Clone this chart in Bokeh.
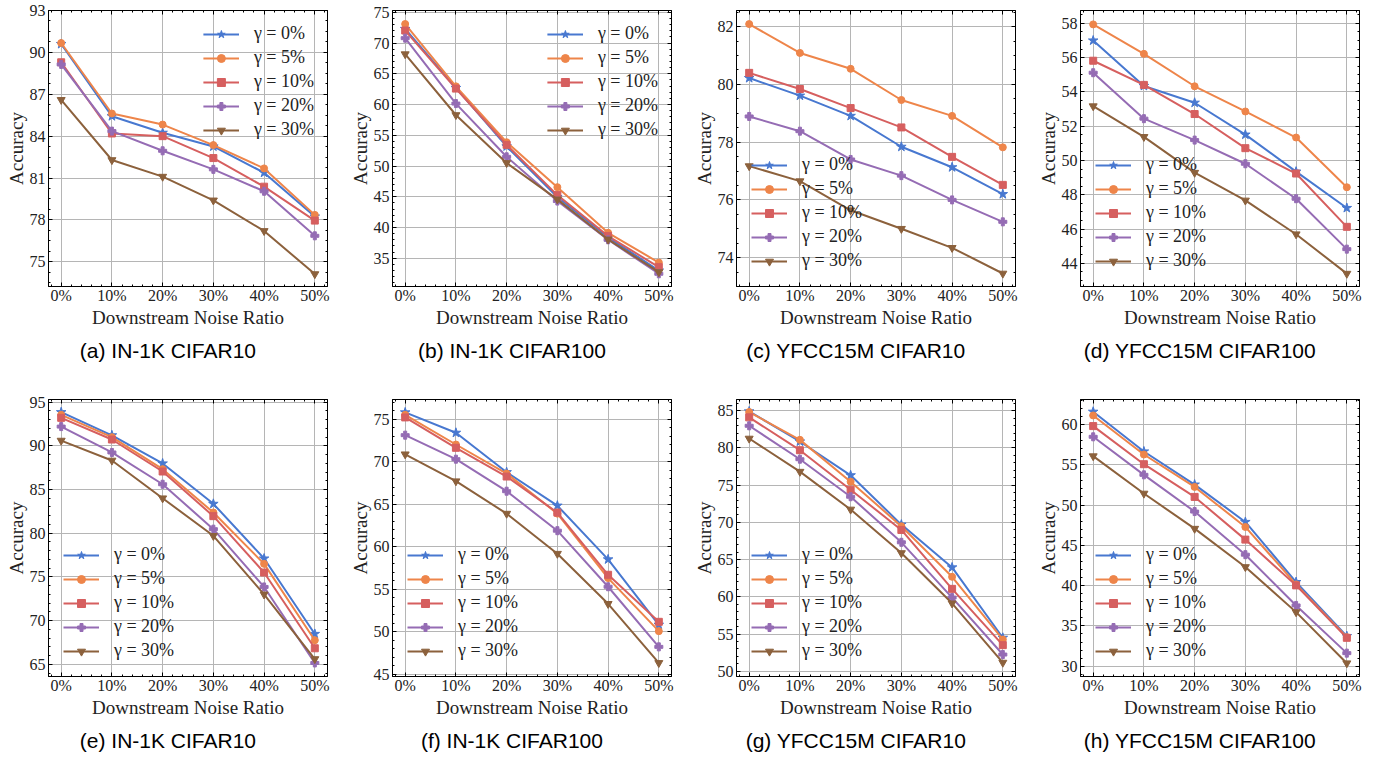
from bokeh.plotting import figure
from bokeh.models import LinearAxis, Legend, LegendItem, SingleIntervalTicker
from bokeh.layouts import row, column
from bokeh.embed import file_html
from bokeh.resources import INLINE

# ---------------- data ----------------
noise = [0, 10, 20, 30, 40, 50]
tick_labels = ["0%", "10%", "20%", "30%", "40%", "50%"]
gamma_labels = ["γ = 0%", "γ = 5%", "γ = 10%", "γ = 20%", "γ = 30%"]
captions = ["(a) IN-1K CIFAR10", "(b) IN-1K CIFAR100", "(c) YFCC15M CIFAR10", "(d) YFCC15M CIFAR100",
            "(e) IN-1K CIFAR10", "(f) IN-1K CIFAR100", "(g) YFCC15M CIFAR10", "(h) YFCC15M CIFAR100"]

a_g0 = [90.60, 85.43, 84.24, 83.26, 81.38, 78.24]
a_g5 = [90.67, 85.62, 84.83, 83.36, 81.69, 78.36]
a_g10 = [89.29, 84.19, 84.00, 82.43, 80.38, 77.95]
a_g20 = [89.14, 84.36, 82.95, 81.62, 80.05, 76.86]
a_g30 = [86.60, 82.29, 81.10, 79.40, 77.21, 74.12]

b_g0 = [72.30, 62.70, 53.20, 44.95, 38.40, 33.00]
b_g5 = [73.10, 62.96, 53.87, 46.56, 39.14, 34.30]
b_g10 = [72.04, 62.60, 53.44, 45.27, 38.60, 33.55]
b_g20 = [70.80, 60.16, 51.50, 44.30, 38.00, 32.47]
b_g30 = [68.20, 58.30, 50.50, 44.57, 38.06, 32.74]

c_g0 = [80.22, 79.61, 78.91, 77.84, 77.13, 76.20]
c_g5 = [82.09, 81.09, 80.54, 79.46, 78.91, 77.82]
c_g10 = [80.40, 79.84, 79.18, 78.51, 77.49, 76.52]
c_g20 = [78.89, 78.38, 77.40, 76.84, 76.00, 75.24]
c_g30 = [77.17, 76.65, 75.64, 75.00, 74.34, 73.45]

d_g0 = [57.00, 54.35, 53.37, 51.51, 49.35, 47.23]
d_g5 = [57.94, 56.22, 54.33, 52.86, 51.34, 48.44]
d_g10 = [55.82, 54.41, 52.71, 50.72, 49.24, 46.13]
d_g20 = [55.12, 52.44, 51.19, 49.81, 47.77, 44.83]
d_g30 = [53.17, 51.38, 49.29, 47.67, 45.70, 43.40]

e_g0 = [93.85, 91.20, 87.98, 83.36, 77.10, 68.47]
e_g5 = [93.55, 90.99, 87.33, 82.37, 76.49, 67.75]
e_g10 = [93.20, 90.72, 87.06, 81.95, 75.50, 66.83]
e_g20 = [92.20, 89.24, 85.60, 80.46, 73.85, 65.15]
e_g30 = [90.60, 88.32, 84.00, 79.70, 73.00, 65.60]

f_g0 = [75.83, 73.43, 68.79, 64.85, 58.52, 50.82]
f_g5 = [75.55, 72.05, 68.63, 63.91, 56.32, 50.07]
f_g10 = [75.24, 71.66, 68.28, 64.03, 56.71, 51.17]
f_g20 = [73.15, 70.32, 66.55, 61.90, 55.30, 48.22]
f_g30 = [70.90, 67.73, 63.91, 59.19, 53.29, 46.33]

g_g0 = [84.90, 80.86, 76.32, 69.70, 63.95, 54.50]
g_g5 = [84.82, 81.08, 75.46, 69.48, 62.69, 54.27]
g_g10 = [84.10, 79.69, 74.38, 68.98, 61.07, 53.51]
g_g20 = [82.97, 78.48, 73.44, 67.32, 59.90, 52.25]
g_g30 = [81.26, 76.81, 71.73, 65.88, 59.13, 51.17]

h_g0 = [61.58, 56.65, 52.54, 47.90, 40.44, 33.73]
h_g5 = [61.12, 56.27, 52.25, 47.28, 40.15, 33.60]
h_g10 = [59.80, 55.07, 51.01, 45.71, 40.03, 33.52]
h_g20 = [58.47, 53.75, 49.19, 43.84, 37.54, 31.62]
h_g30 = [56.07, 51.43, 47.07, 42.31, 36.71, 30.37]

# axis limits and tick steps per panel
ylims = [(73.23, 93.0), (30.4, 75.3), (73.0, 82.56), (42.65, 58.75),
         (63.6, 95.3), (44.73, 77.35), (49.3, 86.5), (28.72, 63.1)]
ysteps = [3, 5, 2, 2, 5, 5, 5, 5]

# ---------------- style ----------------
colors = ["#4878d0", "#ee854a", "#d65f5f", "#956cb4", "#8c613c"]
markers = ["star", "circle", "square", "plus", "inverted_triangle"]
msizes = [10, 7, 7, 8, 8]
SERIF = "Liberation Serif"
SANS = "Liberation Sans"
TXT = "#222222"
CAP_PX = 21

# approximate Arial advance widths (per 1000 em) for centring captions
ARIAL_W = {"(": 333, ")": 333, " ": 278, "-": 333, "a": 556, "b": 556, "c": 500, "d": 556,
           "e": 556, "f": 278, "g": 556, "h": 556, "I": 278, "N": 722, "K": 667, "C": 722,
           "F": 611, "A": 667, "R": 722, "Y": 667, "M": 833, "0": 556, "1": 556, "5": 556}

panels = [
    [a_g0, a_g5, a_g10, a_g20, a_g30],
    [b_g0, b_g5, b_g10, b_g20, b_g30],
    [c_g0, c_g5, c_g10, c_g20, c_g30],
    [d_g0, d_g5, d_g10, d_g20, d_g30],
    [e_g0, e_g5, e_g10, e_g20, e_g30],
    [f_g0, f_g5, f_g10, f_g20, f_g30],
    [g_g0, g_g5, g_g10, g_g20, g_g30],
    [h_g0, h_g5, h_g10, h_g20, h_g30],
]


def text_width(s, px):
    return sum(ARIAL_W.get(ch, 556) for ch in s) * px / 1000.0


def style_axis(ax, ticker, show_labels):
    ax.ticker = ticker
    ax.major_tick_in = 4
    ax.major_tick_out = 0
    ax.minor_tick_in = 2
    ax.minor_tick_out = 0
    ax.axis_line_color = "black"
    ax.major_tick_line_color = "black"
    ax.minor_tick_line_color = "black"
    if show_labels:
        ax.major_label_text_font = SERIF
        ax.major_label_text_font_size = "16px"
        ax.major_label_text_color = TXT
    else:
        ax.major_label_text_font_size = "0px"
        ax.major_label_text_color = None
        ax.major_label_standoff = 0


def make_panel(i):
    top_row = i < 4
    last_col = (i % 4) == 3
    p = figure(frame_width=279, frame_height=276 if top_row else 277,
               x_range=(-2.5, 52.5), y_range=ylims[i],
               output_backend="svg", toolbar_location=None,
               title=captions[i], title_location="below",
               min_border_left=48, min_border_right=16 if last_col else 17,
               min_border_top=10 if top_row else 16,
               min_border_bottom=97 if top_row else 78)
    p.title.align = "left"
    p.title.offset = 120 - text_width(captions[i], CAP_PX) / 2
    p.title.text_font = SANS
    p.title.text_font_size = f"{CAP_PX}px"
    p.title.text_font_style = "normal"
    p.title.text_color = "black"
    p.title.standoff = 12

    xt = SingleIntervalTicker(interval=10, num_minor_ticks=5)
    yt = SingleIntervalTicker(interval=ysteps[i], num_minor_ticks=4 if ysteps[i] in (2, 3) else 5)

    xa = p.xaxis[0]
    ya = p.yaxis[0]
    style_axis(xa, xt, True)
    style_axis(ya, yt, True)
    xa.major_label_overrides = {v: lab for v, lab in zip(noise, tick_labels)}
    xa.major_label_standoff = 0
    ya.major_label_standoff = 3
    xa.axis_label = "Downstream Noise Ratio"
    ya.axis_label = "Accuracy"
    for ax in (xa, ya):
        ax.axis_label_text_font = SERIF
        ax.axis_label_text_font_size = "19px"
        ax.axis_label_text_font_style = "normal"
        ax.axis_label_text_color = TXT
        ax.axis_label_standoff = 0

    ra = LinearAxis()
    style_axis(ra, SingleIntervalTicker(interval=ysteps[i], num_minor_ticks=4 if ysteps[i] in (2, 3) else 5), False)
    p.add_layout(ra, "right")
    ta = LinearAxis()
    style_axis(ta, SingleIntervalTicker(interval=10, num_minor_ticks=5), False)
    p.add_layout(ta, "above")

    p.xgrid.grid_line_color = "#b5b5b5"
    p.ygrid.grid_line_color = "#b5b5b5"
    p.xgrid.grid_line_width = 1
    p.ygrid.grid_line_width = 1
    p.outline_line_color = "black"
    p.outline_line_width = 1
    p.background_fill_color = "white"

    items = []
    for k, ys in enumerate(panels[i]):
        rl = p.line(noise, ys, line_color=colors[k], line_width=2)
        rm = p.scatter(noise, ys, marker=markers[k], size=msizes[k],
                       fill_color=colors[k], line_color=colors[k])
        items.append(LegendItem(label=gamma_labels[k], renderers=[rl, rm]))
    leg = Legend(items=items, location="top_right" if i < 2 else "bottom_left",
                 background_fill_alpha=0, border_line_alpha=0,
                 label_text_font=SERIF, label_text_font_size="18px", label_text_color=TXT,
                 glyph_width=36, glyph_height=20, spacing=3, padding=5,
                 margin=8 if i < 2 else 10, label_standoff=15)
    p.add_layout(leg)
    return p


figs = [make_panel(i) for i in range(8)]
layout = column(row(*figs[:4]), row(*figs[4:]))

open("out.html", "w").write(file_html(layout, INLINE))
